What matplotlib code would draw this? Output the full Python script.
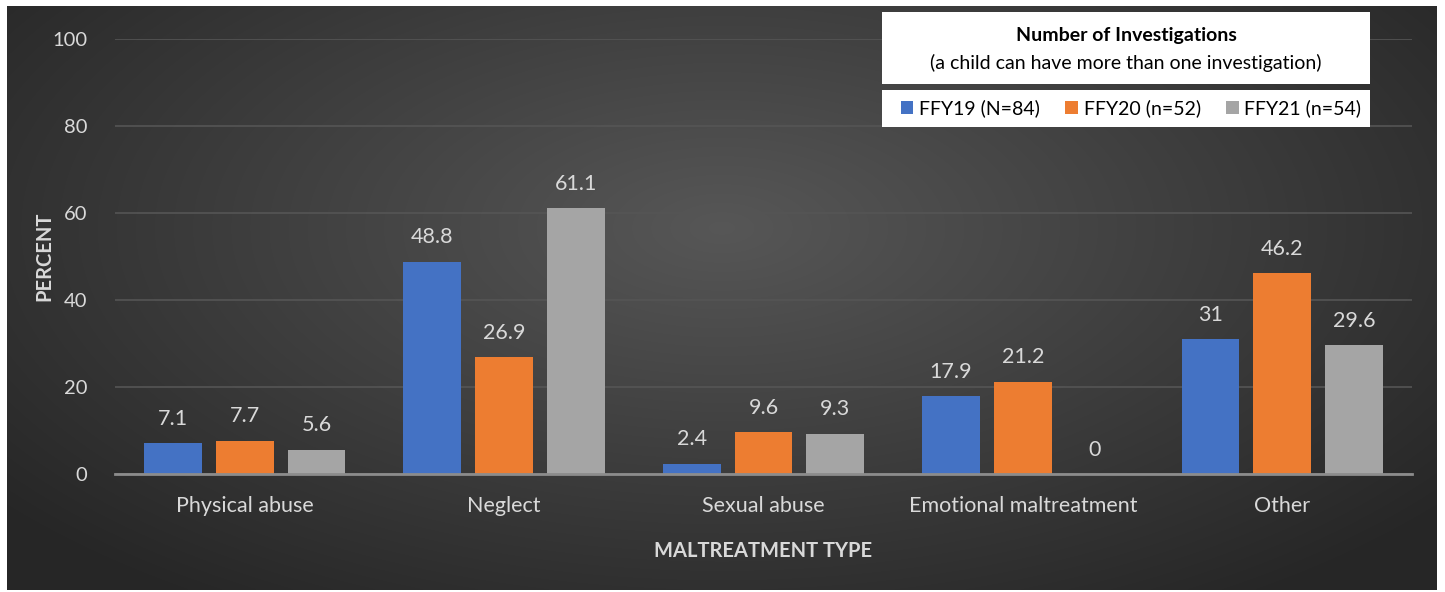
import numpy as np
import matplotlib.pyplot as plt
from matplotlib.patches import Rectangle

categories = ["Physical abuse", "Neglect", "Sexual abuse",
              "Emotional maltreatment", "Other"]
series_names = ["FFY19 (N=84)", "FFY20 (n=52)", "FFY21 (n=54)"]
ffy19 = [7.1, 48.8, 2.4, 17.9, 31]
ffy20 = [7.7, 26.9, 9.6, 21.2, 46.2]
ffy21 = [5.6, 61.1, 9.3, 0, 29.6]
colors = ["#4472C4", "#ED7D31", "#A5A5A5"]

plt.rcParams['font.family'] = ['Lato', 'DejaVu Sans']
txt = "#D9D9D9"

fig = plt.figure(figsize=(14.45, 5.92), dpi=100)
fig.patch.set_facecolor("white")

# dark radial-gradient panel
bg = fig.add_axes([7 / 1445, 2 / 592, 1430 / 1445, 584 / 592])
yy, xx = np.mgrid[0:1:300j, 0:1:700j]
r = np.sqrt(((xx - 0.5) / 0.75) ** 2 + ((yy - 0.62) / 0.9) ** 2)
shade = np.clip(0.34 - 0.22 * r, 0.15, 0.34)
bg.imshow(np.dstack([shade] * 3), aspect="auto", extent=[0, 1, 0, 1],
          origin="lower", interpolation="bilinear")
bg.set_axis_off()

ax = fig.add_axes([115 / 1445, (592 - 474) / 592, 1297 / 1445, 435 / 592])
ax.patch.set_alpha(0)

x = np.arange(len(categories))
width = 0.223
offset = 0.277
for i, (vals, name) in enumerate(zip([ffy19, ffy20, ffy21], series_names)):
    pos = x + (i - 1) * offset
    ax.bar(pos, vals, width, color=colors[i], label=name, zorder=3)
    for p, v in zip(pos, vals):
        ax.text(p, v + 3.3, f"{v:g}", ha="center", va="bottom",
                color=txt, fontsize=15.5)

ax.set_xlim(-0.5, 4.5)
ax.set_ylim(0, 100)
ax.set_yticks(range(0, 101, 20))
ax.set_xticks(x)
ax.set_xticklabels(categories)
ax.tick_params(axis="both", length=0, colors=txt)
ax.tick_params(axis="y", labelsize=14.5, pad=20)
ax.tick_params(axis="x", labelsize=15.5, pad=16)
ax.grid(axis="y", color="#555555", linewidth=1.2, zorder=0)
for s in ["top", "right", "left"]:
    ax.spines[s].set_visible(False)
ax.spines["bottom"].set_color("#8C8C8C")
ax.spines["bottom"].set_linewidth(2)
ax.spines["bottom"].set_zorder(4)

ax.set_ylabel("PERCENT", color=txt, fontsize=14.5, fontweight="bold")
ax.yaxis.set_label_coords(-0.047, 0.5)
ax.set_xlabel("MALTREATMENT TYPE", color=txt, fontsize=14.5, fontweight="bold")
ax.xaxis.set_label_coords(0.5, -0.155)

# legend boxes
for top, h in [(12, 72), (90, 37)]:
    fig.patches.append(Rectangle((882 / 1445, (592 - top - h) / 592), 488 / 1445,
                                 h / 592, transform=fig.transFigure,
                                 facecolor="white", edgecolor="none", zorder=5))
fig.text(1126 / 1445, (592 - 35) / 592, "Number of Investigations",
         ha="center", va="center", fontsize=14, fontweight="bold",
         color="black", zorder=6)
fig.text(1126 / 1445, (592 - 63) / 592,
         "(a child can have more than one investigation)",
         ha="center", va="center", fontsize=14, color="black", zorder=6)

leg = fig.legend(loc="center", bbox_to_anchor=(1131 / 1445, (592 - 108.5) / 592),
                 ncol=3, fontsize=14, frameon=False,
                 handlelength=0.65, handleheight=0.65, handletextpad=0.3,
                 columnspacing=1.3, borderpad=0.3, borderaxespad=0)
leg.set_zorder(7)

fig.savefig("out.png", dpi=100)
